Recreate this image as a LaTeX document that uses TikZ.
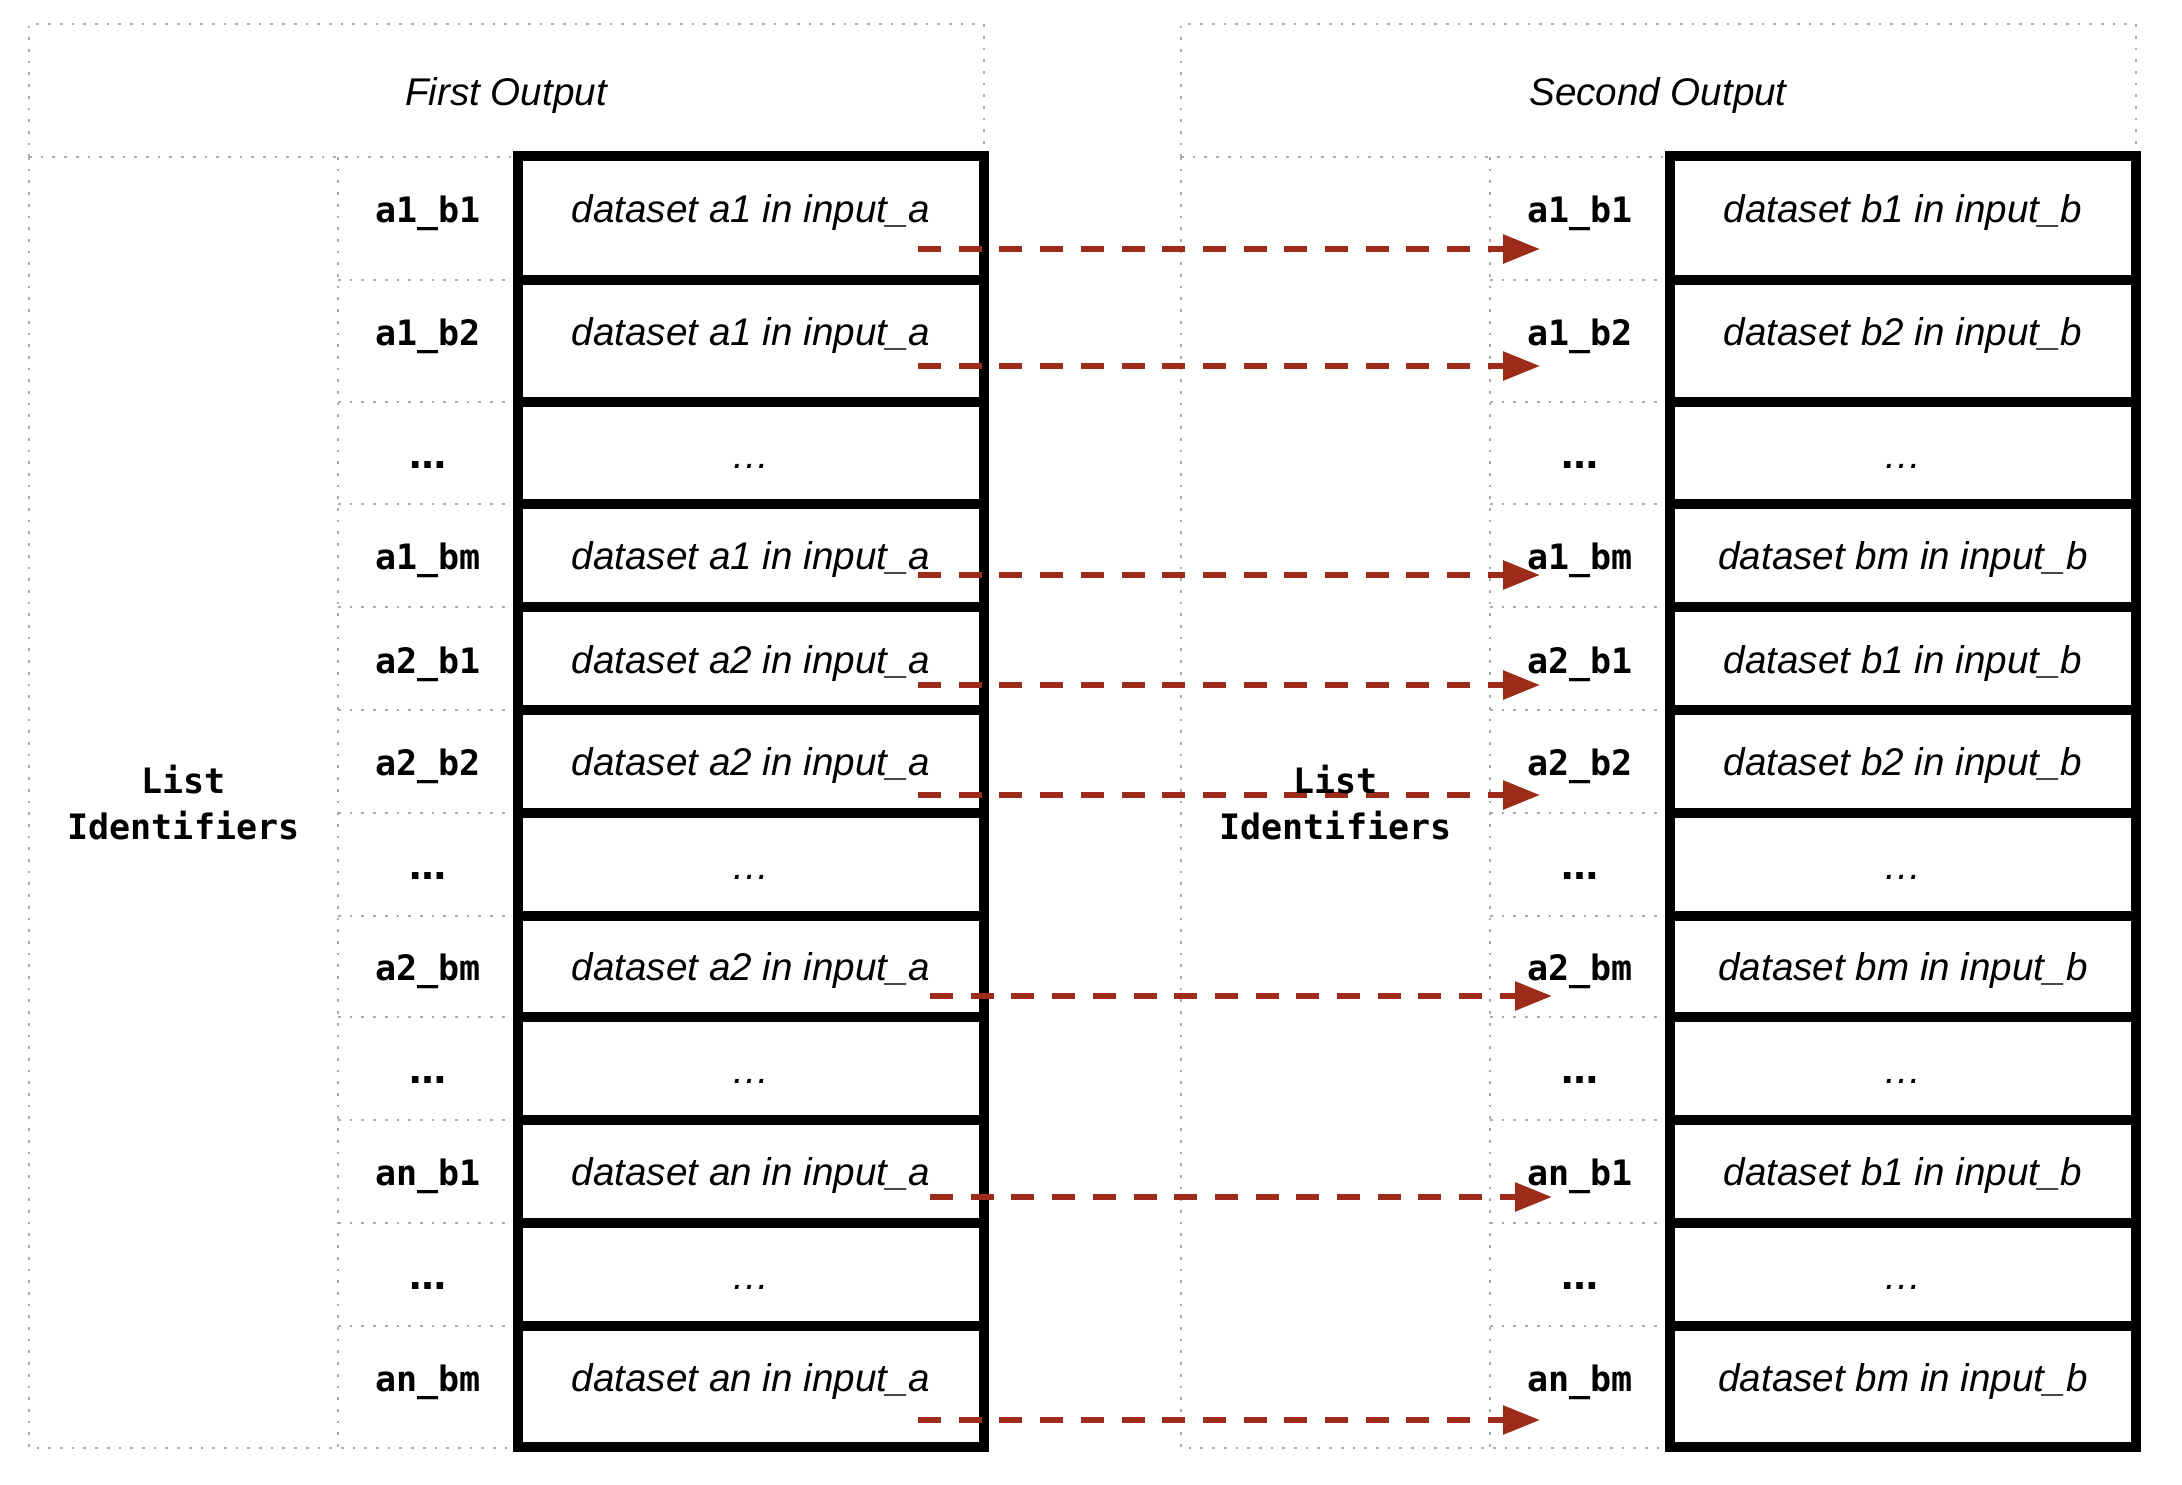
\documentclass[tikz,border=0pt]{standalone}
\usepackage{fontspec}
\setmainfont{Liberation Sans}
\newfontfamily\lblfont{DejaVu Sans Mono}
\newfontfamily\dotfont{DejaVu Sans}
\usetikzlibrary{arrows.meta}
\definecolor{arrowred}{RGB}{156,43,25}
\definecolor{guidegray}{RGB}{172,172,172}
\newcommand{\keydots}{{\dotfont\bfseries\fontsize{37}{40}\selectfont\char"2026}}
\begin{document}
\begin{tikzpicture}[x=1pt,y=-1pt,
  guide/.style={draw=guidegray, line width=2.7pt, dash pattern=on 2.7pt off 9pt},
  cell/.style={draw=black, line width=10pt, rectangle, inner sep=0pt, outer sep=0pt, anchor=north west, minimum width=466pt},
  flow/.style={draw=arrowred, line width=5.8pt, dash pattern=on 23pt off 17.7pt, -{Triangle[length=37pt,width=28pt]}},
  ital/.style={font=\fontsize{38.6}{46}\selectfont\itshape, inner sep=0pt, anchor=base},
  lbl/.style={font=\lblfont\bfseries\fontsize{35}{46}\selectfont, inner sep=0pt, anchor=base},
  listid/.style={font=\lblfont\bfseries\fontsize{35}{46}\selectfont, inner sep=0pt, anchor=base, align=center}
]
\fill[white] (0,0) rectangle (2182,1484);
\useasboundingbox (0,0) rectangle (2182,1484);

% dotted guides, both panels
\foreach \dx in {0,1152}{
  \draw[guide] (29+\dx,157) -- (29+\dx,24) -- (984+\dx,24) -- (984+\dx,157);
  \draw[guide] (29+\dx,157) -- (518+\dx,157);
  \draw[guide] (29+\dx,157) -- (29+\dx,1448) -- (518+\dx,1448);
  \draw[guide] (338+\dx,157) -- (338+\dx,1448);
  \foreach \yy in {280,402,504,607,710,813,916,1017,1120,1223,1326}{
    \draw[guide] (338+\dx,\yy) -- (518+\dx,\yy);
  }
}

% cells
\foreach \i/\t/\b in {1/156/280, 2/280/402, 3/402/504, 4/504/607, 5/607/710,
  6/710/813, 7/813/916, 8/916/1017, 9/1017/1120, 10/1120/1223, 11/1223/1326, 12/1326/1447}{
  \node[cell, minimum height={(\b-\t)*1pt}] (L\i) at (518,\t) {};
  \node[cell, minimum height={(\b-\t)*1pt}] (R\i) at (1670,\t) {};
}

% arrows
\foreach \i/\y/\xs/\xe in {1/249/918/1540, 2/366/918/1540, 4/575/918/1540,
  5/685/918/1540, 6/795/918/1540, 8/996/930/1552, 10/1197/930/1552, 12/1420/918/1540}{
  \coordinate (as\i) at (\xs,\y);
  \coordinate (ae\i) at (\xe,\y);
  \draw[flow] (as\i) -- (ae\i);
}

% keys and texts
\foreach \i/\base/\lab/\da/\db in {
  1/222/a1\_b1/dataset a1 in input\_a/dataset b1 in input\_b,
  2/345/a1\_b2/dataset a1 in input\_a/dataset b2 in input\_b,
  3/468/\keydots/\char"2026/\char"2026,
  4/569/a1\_bm/dataset a1 in input\_a/dataset bm in input\_b,
  5/673/a2\_b1/dataset a2 in input\_a/dataset b1 in input\_b,
  6/775/a2\_b2/dataset a2 in input\_a/dataset b2 in input\_b,
  7/879/\keydots/\char"2026/\char"2026,
  8/980/a2\_bm/dataset a2 in input\_a/dataset bm in input\_b,
  9/1083/\keydots/\char"2026/\char"2026,
  10/1185/an\_b1/dataset an in input\_a/dataset b1 in input\_b,
  11/1289/\keydots/\char"2026/\char"2026,
  12/1391/an\_bm/dataset an in input\_a/dataset bm in input\_b}{
  \node[lbl] (lk\i) at (428,\base) {\lab};
  \node[lbl] (rk\i) at (1580,\base) {\lab};
  \node[ital] (lt\i) at (751,\base) {\da};
  \node[ital] (rt\i) at (1903,\base) {\db};
}

% headers
\node[ital] (head1) at (506,105) {First Output};
\node[ital] (head2) at (1658,105) {Second Output};
\node[listid] (list1) at (183.5,839) {List\\Identifiers};
\node[listid] (list2) at (1335.5,839) {List\\Identifiers};
\end{tikzpicture}
\end{document}
